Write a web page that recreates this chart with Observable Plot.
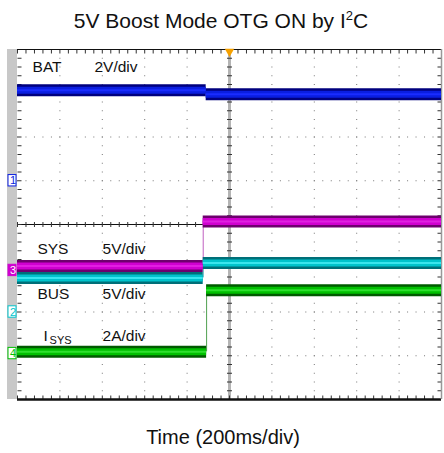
<!DOCTYPE html>
<html>
<head>
<meta charset="utf-8">
<script src="https://cdn.jsdelivr.net/npm/d3@7"></script>
<script src="https://cdn.jsdelivr.net/npm/@observablehq/plot@0.6"></script>
<style>
  html, body { margin: 0; padding: 0; background: white; }
  body { position: relative; width: 444px; height: 453px; overflow: hidden; font-family: "Liberation Sans", Arial, sans-serif; }
  #title { position: absolute; left: -1px; top: 8px; width: 444px; text-align: center; font-size: 21px; line-height: 25px; color: #111; }
  #title sup { font-size: 13px; vertical-align: 8px; line-height: 0; }
  #chart { position: absolute; left: 0; top: 36px; }
  #caption { position: absolute; left: 1px; top: 426px; width: 444px; text-align: center; font-size: 20px; line-height: 23px; color: #111; }
</style>
</head>
<body>
<div id="title">5V Boost Mode OTG ON by I<sup>2</sup>C</div>
<div id="chart"></div>
<div id="caption">Time (200ms/div)</div>
<script>
// ---- data (read from the scope capture) ----
const channelNumbers = [1, 2, 3, 4];
const channelNames = ["BAT", "BUS", "SYS", "ISYS"];
const unitsPerDiv = [2, 5, 5, 2];              // V/div, V/div, V/div, A/div
const scaleLabels = ["2V/div", "5V/div", "5V/div", "2A/div"];
const offsetDiv = [1, -2, -1.05, -2.95];        // channel ground marker (divisions)
const stepTimeMs = [-110, -124, -124, -108];    // time of transition
const levelBefore = [4.14, 3.9, 0.5, 0.08];     // value before OTG enable
const levelAfter = [3.96, 5.6, 5.6, 2.9];       // value after OTG enable
const timeDomainMs = [-1000, 1000];             // 10 div x 200 ms
const divDomain = [-4, 4];
const gridTimesMs = [-800, -600, -400, -200, 200, 400, 600, 800];
const gridDivs = [-3, -2, -1, 1, 2, 3];

// ---- styling ----
const outerColor = ["#00007e", "#006f78", "#6e006e", "#005a00"];
const innerColor = ["#0a1ee0", "#00c4cc", "#d000d0", "#00c000"];
const coreColor  = ["#1a2cff", "#3ae6ee", "#e020e0", "#2ee02e"];
const edgeColor  = ["#3040c0", "#40b0b8", "#c060c0", "#50a050"];

// label layout (ms, div)
const labelRows = [
  {name: "BAT", scale: "2V/div", xName: -929, xScale: -637, y: 3.59},
  {name: "SYS", scale: "5V/div", xName: -906, xScale: -599, y: -0.55},
  {name: "BUS", scale: "5V/div", xName: -906, xScale: -599, y: -1.6},
  {name: "I",   scale: "2A/div", xName: -877, xScale: -599, y: -2.55, sub: "SYS"}
];

const toDiv = (i, v) => offsetDiv[i] + v / unitsPerDiv[i];

const segments = [];
const transitions = [];
channelNumbers.forEach((ch, i) => {
  segments.push({i, x1: timeDomainMs[0], x2: stepTimeMs[i], y: toDiv(i, levelBefore[i])});
  segments.push({i, x1: stepTimeMs[i], x2: timeDomainMs[1], y: toDiv(i, levelAfter[i])});
  transitions.push({i, x: stepTimeMs[i], y1: toDiv(i, levelBefore[i]), y2: toDiv(i, levelAfter[i])});
});
const markers = channelNumbers.map((ch, i) => ({i, ch, y: offsetDiv[i]}));

const plot = Plot.plot({
  width: 444,
  height: 377,
  marginLeft: 17,
  marginRight: 3,
  marginTop: 13,
  marginBottom: 14,
  x: {domain: timeDomainMs, axis: null},
  y: {domain: divDomain, axis: null},
  style: {background: "white", fontFamily: "'Liberation Sans', Arial, sans-serif", overflow: "visible"},
  marks: [
    // gray strip on the left
    Plot.rect([0], {x1: timeDomainMs[0], x2: timeDomainMs[0], y1: divDomain[0], y2: divDomain[1], insetLeft: -10, fill: "#c8c8c8"}),
    // dotted grid
    Plot.ruleX(gridTimesMs, {stroke: "#777", strokeWidth: 1, strokeDasharray: "1,7.75"}),
    Plot.ruleY(gridDivs, {stroke: "#777", strokeWidth: 1, strokeDasharray: "1,7.48"}),
    // center axes
    Plot.ruleX([0], {stroke: "#b4b4b4", strokeWidth: 3}),
    Plot.ruleX([0], {stroke: "#333", strokeWidth: 5, strokeDasharray: "1,7.75"}),
    Plot.ruleY([0], {stroke: "#111", strokeWidth: 1}),
    Plot.ruleY([0], {stroke: "#333", strokeWidth: 5, strokeDasharray: "1,7.48"}),
    // border ticks
    Plot.ruleY([divDomain[1]], {stroke: "#333", strokeWidth: 4, dy: 2, strokeDasharray: "1,7.48"}),
    Plot.ruleY([divDomain[0]], {stroke: "#333", strokeWidth: 4, dy: -2, strokeDasharray: "1,7.48"}),
    Plot.ruleX([timeDomainMs[0]], {stroke: "#333", strokeWidth: 4, dx: 2, strokeDasharray: "1,7.75"}),
    Plot.ruleX([timeDomainMs[1]], {stroke: "#333", strokeWidth: 4, dx: -2, strokeDasharray: "1,7.75"}),
    // borders
    Plot.ruleY([divDomain[1]], {stroke: "#111", strokeWidth: 1}),
    Plot.ruleY([divDomain[0]], {stroke: "#111", strokeWidth: 2.5}),
    Plot.ruleX([timeDomainMs[1]], {stroke: "#999", strokeWidth: 1.5}),
    // trigger marker
    Plot.dot([0], {x: d => d, y: divDomain[1], symbol: "triangle", rotate: 180, r: 3.5, fill: "#f5a000", stroke: "none", dy: 2}),
    // transitions
    Plot.ruleX(transitions, {x: "x", y1: "y1", y2: "y2", stroke: d => edgeColor[d.i], strokeWidth: 1}),
    // traces (bands)
    Plot.ruleY(segments, {x1: "x1", x2: "x2", y: "y", stroke: d => outerColor[d.i], strokeWidth: 12}),
    Plot.ruleY(segments, {x1: "x1", x2: "x2", y: "y", stroke: d => innerColor[d.i], strokeWidth: 7}),
    Plot.ruleY(segments, {x1: "x1", x2: "x2", y: "y", stroke: d => coreColor[d.i], strokeWidth: 2}),
    // channel markers
    Plot.rect(markers, {x1: timeDomainMs[0], x2: timeDomainMs[0], y1: d => d.y - 0.13, y2: d => d.y + 0.13, insetLeft: -9, insetRight: 1,
      fill: d => d.ch === 3 ? innerColor[d.i] : "white", stroke: d => innerColor[d.i], strokeWidth: 1}),
    Plot.text(markers, {x: timeDomainMs[0], y: "y", text: d => String(d.ch), dx: -4.5, fontSize: 11,
      fill: d => d.ch === 3 ? "white" : innerColor[d.i]}),
    // labels
    Plot.text(labelRows, {x: "xName", y: "y", text: "name", textAnchor: "start", fontSize: 15.5, fill: "#111"}),
    Plot.text(labelRows.filter(d => d.sub), {x: "xName", y: "y", text: "sub", textAnchor: "start", fontSize: 11, dx: 6, dy: 4, fill: "#111"}),
    Plot.text(labelRows, {x: "xScale", y: "y", text: "scale", textAnchor: "start", fontSize: 15.5, fill: "#111"})
  ]
});
document.getElementById("chart").appendChild(plot);
</script>
</body>
</html>
